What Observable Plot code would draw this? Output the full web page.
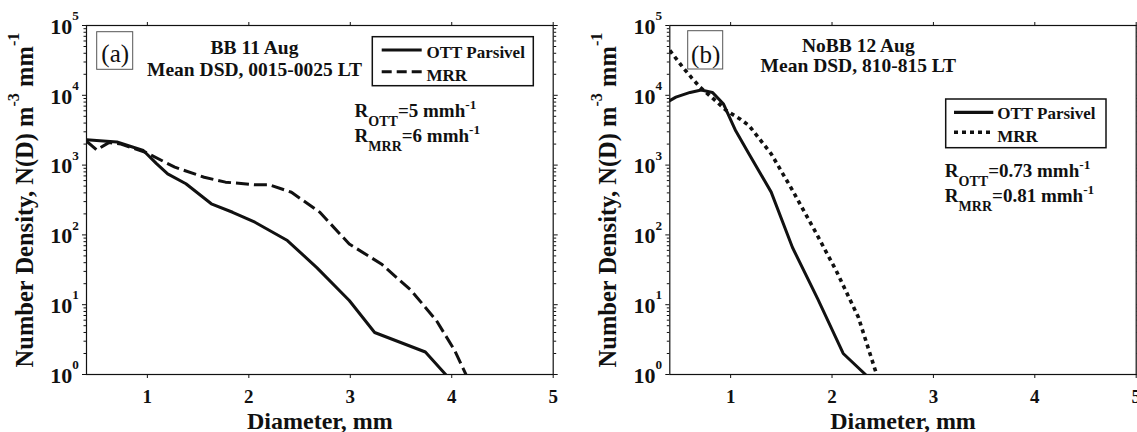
<!DOCTYPE html>
<html><head><meta charset="utf-8">
<script src="https://cdn.jsdelivr.net/npm/d3@7"></script>
<script src="https://cdn.jsdelivr.net/npm/@observablehq/plot@0.6"></script>
<style>
body{margin:0;background:#fff;}
#wrap{position:relative;width:1137px;height:432px;overflow:hidden;background:#fff;}
#wrap svg{position:absolute;top:0;overflow:visible;}
</style></head><body><div id="wrap"></div>
<script>
// ---------- data ----------
const xTicks = [1, 2, 3, 4, 5];
const yDecades = [0, 1, 2, 3, 4, 5];
const xTitle = "Diameter, mm";
const yTitle = "Number Density, N(D) m^{-3} mm^{-1}";
const legendLabels = ["OTT Parsivel", "MRR"];

// panel (a)
const aLabel = "(a)";
const aTitle = ["BB 11 Aug", "Mean DSD, 0015-0025 LT"];
const aRates = ["R_{OTT}=5 mmh^{-1}", "R_{MRR}=6 mmh^{-1}"];
const aOttD = [0.40, 0.70, 0.96, 1.09, 1.20, 1.38, 1.63, 1.84, 2.06, 2.38, 2.67, 2.99, 3.24, 3.74, 3.94];
const aOttN = [2300, 2140, 1620, 1050, 750, 540, 279, 211, 152, 83, 34, 11.5, 4.0, 2.1, 1.0];
const aMrrD = [0.40, 0.50, 0.62, 0.74, 0.98, 1.27, 1.56, 1.77, 2.06, 2.20, 2.42, 2.70, 2.99, 3.31, 3.60, 3.85, 4.03, 4.14];
const aMrrN = [2200, 1650, 2100, 2000, 1530, 935, 670, 570, 523, 523, 408, 211, 74, 38, 16, 5.9, 2.2, 1.0];

// panel (b)
const bLabel = "(b)";
const bTitle = ["NoBB 12 Aug", "Mean DSD, 810-815 LT"];
const bRates = ["R_{OTT}=0.73 mmh^{-1}", "R_{MRR}=0.81 mmh^{-1}"];
const bOttD = [0.40, 0.46, 0.60, 0.71, 0.82, 0.93, 1.05, 1.18, 1.40, 1.61, 1.86, 2.11, 2.33];
const bOttN = [8400, 9400, 11000, 11900, 11000, 7500, 3100, 1450, 410, 66, 12, 2.0, 1.0];
const bMrrD = [0.40, 0.53, 0.62, 0.70, 0.85, 0.96, 1.10, 1.18, 1.40, 1.61, 1.83, 2.04, 2.26, 2.44];
const bMrrN = [44000, 25000, 17500, 13000, 8400, 6000, 4500, 3700, 1450, 435, 115, 31, 6.6, 1.0];

// ---------- helpers ----------
const FONT = '"Liberation Serif", "Times New Roman", Times, serif';
const majors = yDecades.map(k => 10 ** k);
const minors = yDecades.slice(0, -1).flatMap(k => [2,3,4,5,6,7,8,9].map(m => m * 10 ** k));
const rows = (D, N) => D.map((d, i) => ({d, n: N[i]}));

function richify(svg) {
  d3.select(svg).selectAll("text").each(function () {
    const s = this.textContent;
    if (!/[\^_]\{/.test(s)) return;
    const cfg = s.startsWith("10^") ? {supSize: 0.6, supShift: 0.62}
      : s.startsWith("Number") ? {supSize: 0.66, supShift: 0.55}
      : {supSize: 0.7, supShift: 0.42, subSize: 0.74, subShift: 0.47};
    const parts = [];
    const re = /([\^_])\{([^}]*)\}/g; let last = 0, m;
    while ((m = re.exec(s))) {
      if (m.index > last) parts.push({t: s.slice(last, m.index), k: 0});
      parts.push({t: m[2], k: m[1] === "^" ? 1 : -1});
      last = re.lastIndex;
    }
    if (last < s.length) parts.push({t: s.slice(last), k: 0});
    this.textContent = "";
    let off = 0;
    for (const p of parts) {
      const size = p.k === 1 ? cfg.supSize : p.k === -1 ? cfg.subSize : 1;
      const target = p.k === 1 ? -cfg.supShift : p.k === -1 ? cfg.subShift : 0;
      const t = d3.select(this).append("tspan").text(p.t);
      if (size !== 1) t.attr("font-size", `${size * 100}%`);
      const delta = target - off;
      if (delta) t.attr("dy", `${(delta / size).toFixed(3)}em`);
      off = target;
    }
  });
}

function lbl(str, dx, dy, opts = {}) {
  return Plot.text([str], {frameAnchor: "top-left", text: d => d, dx, dy, lineAnchor: "bottom", textAnchor: "start", fontSize: 19, fontWeight: "bold", ...opts});
}

function panel(cfg) {
  const W = 570, H = 432, mt = 25, mb = 58;
  const ott = rows(cfg.ottD, cfg.ottN), mrr = rows(cfg.mrrD, cfg.mrrN);
  const chart = Plot.plot({
    width: W, height: H,
    marginLeft: cfg.ml, marginRight: cfg.mr, marginTop: mt, marginBottom: mb,
    x: {domain: [0.4, 5]},
    y: {type: "log", domain: [1, 1e5]},
    style: {fontFamily: FONT, fontWeight: "bold", color: "#111", background: "transparent", overflow: "visible"},
    marks: [
      Plot.axisX({anchor: "bottom", ticks: xTicks, tickSize: 4, tickPadding: 11, fontSize: 19, fontWeight: "bold", label: null, tickFormat: d => String(d)}),
      Plot.axisX({anchor: "top", ticks: xTicks, tickSize: 4, tickFormat: () => "", label: null}),
      Plot.axisY({anchor: "left", ticks: majors, tickSize: 4, tickFormat: () => "", label: null}),
      Plot.axisY({anchor: "left", ticks: minors, tickSize: 2.5, tickFormat: () => "", label: null}),
      Plot.axisY({anchor: "right", ticks: majors, tickSize: 4, tickFormat: () => "", label: null}),
      Plot.axisY({anchor: "right", ticks: minors, tickSize: 2.5, tickFormat: () => "", label: null}),
      Plot.frame({stroke: "#111", strokeWidth: 1.2}),
      Plot.line(ott, {x: "d", y: "n", stroke: "#111", strokeWidth: 3, clip: true}),
      Plot.line(mrr, {x: "d", y: "n", stroke: "#111", strokeWidth: cfg.mrrWidth, strokeDasharray: cfg.dash, strokeLinecap: "butt", clip: true}),
      Plot.text(yDecades, {frameAnchor: "left", y: d => 10 ** d, text: d => `10^{${d}}`, textAnchor: "end", dx: -7.7, dy: 1.3, fontSize: 22, fontWeight: "bold"}),
      Plot.text([xTitle], {frameAnchor: "bottom", text: d => d, textAnchor: "middle", dy: 54.5, lineAnchor: "bottom", fontSize: 24, fontWeight: "bold"}),
      Plot.text([yTitle], {frameAnchor: "left", text: d => d, textAnchor: "middle", dx: -54, rotate: -90, lineAnchor: "bottom", fontSize: 24.5, fontWeight: "bold"}),
      lbl(cfg.label, cfg.labelDx, cfg.labelDy, {fontSize: 25, fontWeight: "normal", textAnchor: "middle"}),
      lbl(cfg.title[0], cfg.titleDx, cfg.titleDy[0], {fontSize: 19.5, textAnchor: "middle"}),
      lbl(cfg.title[1], cfg.titleDx, cfg.titleDy[1], {fontSize: 19.5, textAnchor: "middle"}),
      lbl(legendLabels[0], cfg.leg.tx, cfg.leg.ty[0], {fontSize: 17}),
      lbl(legendLabels[1], cfg.leg.tx, cfg.leg.ty[1], {fontSize: 17}),
      lbl(cfg.rates[0], cfg.rateDx, cfg.rateDy[0], {fontSize: 19}),
      lbl(cfg.rates[1], cfg.rateDx, cfg.rateDy[1], {fontSize: 19})
    ]
  });
  richify(chart);
  // boxes and legend samples, placed relative to the frame corner
  const fx = cfg.ml, fy = mt;
  const g = d3.select(chart).append("g");
  const b = cfg.box;
  g.append("rect").attr("x", fx + b[0]).attr("y", fy + b[1]).attr("width", b[2]).attr("height", b[3])
    .attr("fill", "none").attr("stroke", "#555").attr("stroke-width", 1);
  const L = cfg.leg;
  g.append("rect").attr("x", fx + L.box[0]).attr("y", fy + L.box[1]).attr("width", L.box[2]).attr("height", L.box[3])
    .attr("fill", "none").attr("stroke", "#111").attr("stroke-width", 1.5);
  g.append("line").attr("x1", fx + L.lx[0]).attr("x2", fx + L.lx[1]).attr("y1", fy + L.ly[0]).attr("y2", fy + L.ly[0])
    .attr("stroke", "#111").attr("stroke-width", 3.2);
  g.append("line").attr("x1", fx + L.lx[0]).attr("x2", fx + L.lx[1]).attr("y1", fy + L.ly[1]).attr("y2", fy + L.ly[1])
    .attr("stroke", "#111").attr("stroke-width", cfg.mrrWidth).attr("stroke-dasharray", L.dash);
  chart.style.left = cfg.left + "px";
  return chart;
}

const wrap = document.getElementById("wrap");
wrap.appendChild(panel({
  left: 0, ml: 86, mr: 17.3,
  ottD: aOttD, ottN: aOttN, mrrD: aMrrD, mrrN: aMrrN,
  dash: "13,5", mrrWidth: 3,
  label: aLabel, labelDx: 28.7, labelDy: 36, box: [10.7, 6.7, 36, 37.6],
  title: aTitle, titleDx: 168, titleDy: [28, 50],
  leg: {box: [286.3, 11.7, 161, 49], lx: [295.7, 335.7], ly: [25, 46.7], tx: 340, ty: [32.3, 55], dash: "10,5"},
  rates: aRates, rateDx: 268, rateDy: [91.7, 116.7]
}));
wrap.appendChild(panel({
  left: 567, ml: 102.3, mr: 1.3,
  ottD: bOttD, ottN: bOttN, mrrD: bMrrD, mrrN: bMrrN,
  dash: "4,4", mrrWidth: 3.6,
  label: bLabel, labelDx: 35.9, labelDy: 37.5, box: [18.4, 5.7, 35, 38.3],
  title: bTitle, titleDx: 188.5, titleDy: [26, 46.3],
  leg: {box: [276.4, 74, 160.3, 48.7], lx: [284.7, 324], ly: [87.3, 107.3], tx: 327.4, ty: [93.3, 116.7], dash: "4,4"},
  rates: bRates, rateDx: 275, rateDy: [151.7, 176.7]
}));
</script></body></html>
